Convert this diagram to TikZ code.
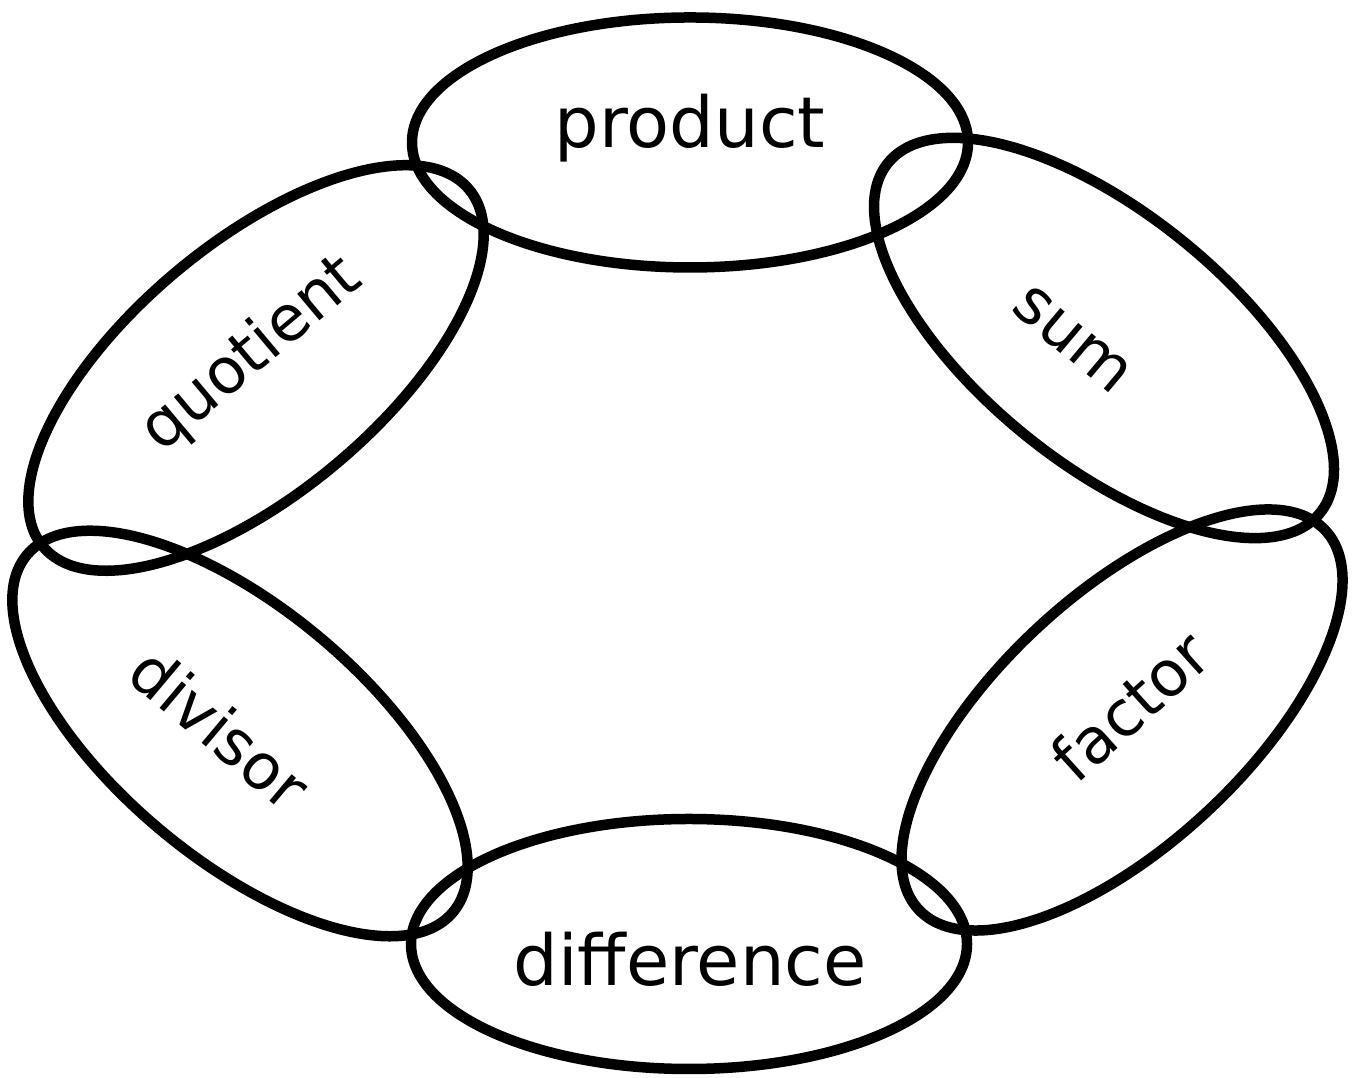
\documentclass[tikz,border=0pt]{standalone}
\usepackage{fontspec}
\setmainfont{DejaVu Sans}
\usetikzlibrary{shapes.geometric}

\begin{document}
\begin{tikzpicture}[
		ring/.style={draw, ellipse, line width=0.105cm, inner sep=0pt,
			minimum width=5.56cm, minimum height=2.5cm},
		word/.style={inner sep=0pt, font=\fontsize{20}{24}\selectfont},
		tiltword/.style={inner sep=0pt, font=\fontsize{18}{22}\selectfont}
	]
	\useasboundingbox (0,0) rectangle (13.58,10.78);

	% the six rings
	\node[ring] (product) at (6.90,9.355) {};
	\node[ring] (difference) at (6.89,1.34) {};
	\node[ring, rotate=40] (quotient) at (2.56,7.10) {};
	\node[ring, rotate=-39] (sum) at (11.04,7.40) {};
	\node[ring, rotate=-40] (divisor) at (2.40,3.445) {};
	\node[ring, rotate=43] (factor) at (11.22,3.58) {};

	% the words
	\node[word] (productword) at (6.90,9.50) {product};
	\node[word] (differenceword) at (6.90,1.19) {difference};
	\node[tiltword, rotate=40] (quotientword) at (2.52,7.23) {quotient};
	\node[tiltword, rotate=-40] (sumword) at (10.72,7.38) {sum};
	\node[tiltword, rotate=-40] (divisorword) at (2.20,3.50) {divisor};
	\node[tiltword, rotate=42] (factorword) at (11.30,3.72) {factor};
\end{tikzpicture}
\end{document}
